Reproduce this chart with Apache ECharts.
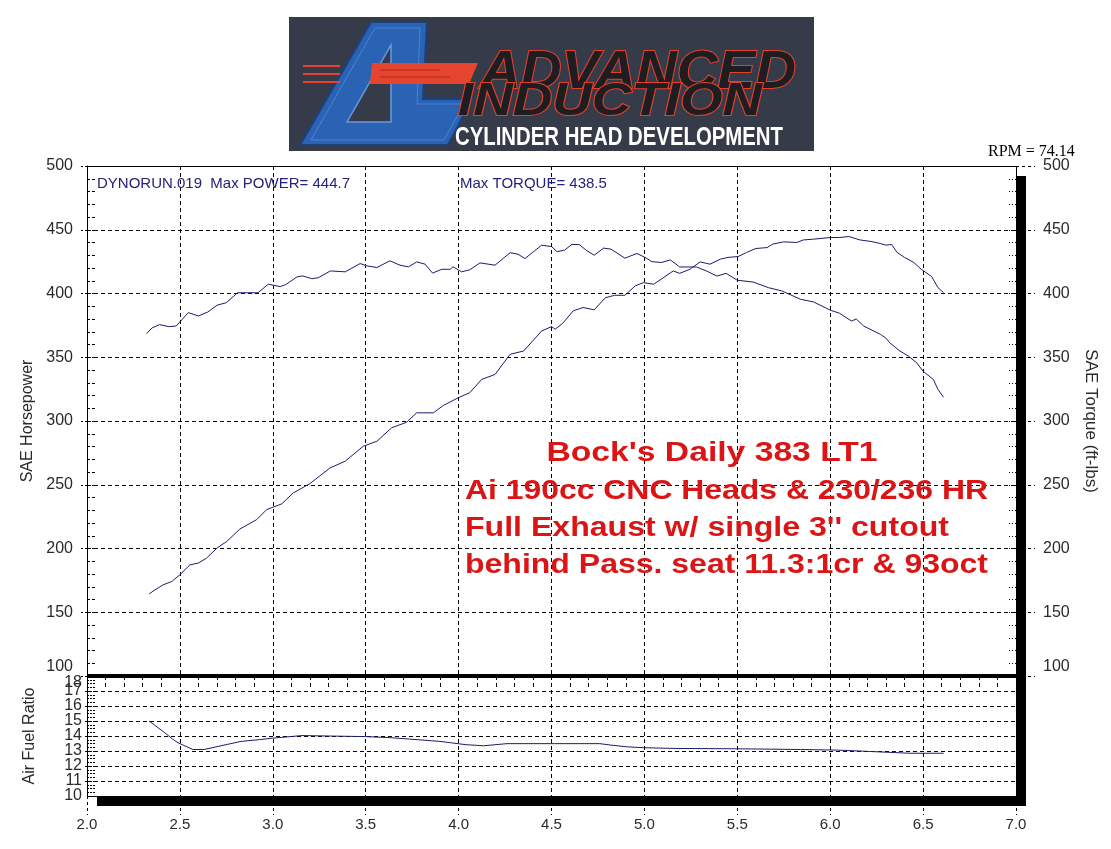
<!DOCTYPE html>
<html>
<head>
<meta charset="utf-8">
<script src="https://cdn.jsdelivr.net/npm/echarts@6/dist/echarts.min.js"></script>
<style>html,body{margin:0;padding:0;background:#fff}#c{width:1111px;height:849px}</style>
</head>
<body>
<div id="c"></div>
<script>
// ---- tick labels ----
const xTicks = [2.0, 2.5, 3.0, 3.5, 4.0, 4.5, 5.0, 5.5, 6.0, 6.5, 7.0];
const hpTicks = [100, 150, 200, 250, 300, 350, 400, 450, 500];
const tqTicks = [100, 150, 200, 250, 300, 350, 400, 450, 500];
const afrTicks = [10, 11, 12, 13, 14, 15, 16, 17, 18];

// ---- series: SAE Torque (ft-lbs) vs RPM x1000 ----
const torqueRpm = [2.32,2.35,2.39,2.44,2.48,2.545,2.60,2.65,2.70,2.75,2.81,2.92,2.976,3.04,3.07,3.13,3.16,3.21,3.245,3.31,3.39,3.47,3.505,3.56,3.63,3.685,3.73,3.775,3.82,3.86,3.91,3.955,3.97,4.016,4.06,4.115,4.196,4.277,4.32,4.357,4.447,4.50,4.53,4.57,4.61,4.65,4.69,4.73,4.78,4.82,4.895,4.96,5.003,5.04,5.09,5.14,5.19,5.28,5.335,5.39,5.44,5.50,5.585,5.667,5.74,5.84,5.91,6.0,6.05,6.115,6.14,6.18,6.27,6.30,6.32,6.375,6.42,6.465,6.50,6.555,6.58,6.61];
const torqueVal = [368.5,373,375.6,374,374.5,385,382.4,385.5,390.8,392.8,400.6,400.6,407.3,405.4,407,413,413.8,411.6,412.4,417.7,417,423.5,421.7,420.4,425.6,422.2,420.9,424.8,423,416,419,419,421,417,418.6,424,422.2,432,430.8,427.4,437.9,436.8,432.8,434,438.5,438.3,433.6,430,435.6,434.8,427.7,431.4,428.3,425,424.3,426.3,420.8,420.8,417.6,413.7,415.8,410.4,409,404.6,402,395.5,393.4,387,384.5,378.4,380,374.5,368,365,361.4,354.9,351,345.7,339,332.6,324.8,318.7];

// ---- series: SAE Horsepower vs RPM x1000 ----
const powerRpm = [2.335,2.366,2.41,2.456,2.50,2.554,2.60,2.644,2.70,2.752,2.823,2.913,2.967,3.048,3.11,3.20,3.308,3.389,3.487,3.56,3.64,3.72,3.774,3.864,3.918,3.998,4.06,4.124,4.196,4.277,4.35,4.447,4.50,4.52,4.56,4.617,4.67,4.73,4.79,4.84,4.895,4.95,4.994,5.05,5.09,5.155,5.19,5.245,5.30,5.353,5.41,5.45,5.505,5.55,5.60,5.66,5.69,5.75,5.82,5.855,5.91,6.0,6.05,6.10,6.16,6.22,6.27,6.30,6.33,6.36,6.40,6.45,6.49,6.546,6.58,6.61];
const powerVal = [164.4,167.6,171.5,174.1,179.4,187.2,188.6,192.5,200.4,205.5,215.3,222.6,230.5,235,243.6,250.9,263.2,268.4,280.2,284.1,294.7,299,306.4,306.4,312.2,318.2,322.2,332.6,336.5,352.3,354.9,370.6,374,372,376.6,386.4,389,387.2,396.7,398.6,398.6,405.9,408.5,407.3,411.2,417.7,415.8,419,424.8,423,427,428.3,429,432.2,435.3,436,438.7,440.5,440,442,442.6,443.9,443.9,444.7,442,440.8,439.2,437.9,438.5,432.2,428.3,424.3,419,413.3,404.6,400.6];

// ---- series: Air Fuel Ratio vs RPM x1000 ----
const afrRpm = [2.334,2.41,2.46,2.49,2.57,2.63,2.755,2.83,2.93,3.0,3.095,3.157,3.30,3.497,3.63,3.73,3.90,4.04,4.135,4.26,4.515,4.76,4.815,4.905,4.994,5.165,5.48,5.84,6.04,6.21,6.43,6.61];
const afrVal = [15.0,14.3,13.8,13.55,13.1,13.1,13.44,13.64,13.76,13.86,13.96,14.03,14.0,13.96,13.89,13.8,13.64,13.42,13.35,13.49,13.49,13.49,13.4,13.28,13.22,13.17,13.15,13.1,13.06,12.97,12.85,12.85];

// ---- texts ----
const headerLeft = 'DYNORUN.019  Max POWER= 444.7';
const headerMid = 'Max TORQUE= 438.5';
const headerRight = 'RPM = 74.14';
const noteTitle = "Bock's Daily 383 LT1";
const noteLines = ['Ai 190cc CNC Heads & 230/236 HR', "Full Exhaust w/ single 3'' cutout", 'behind Pass. seat 11.3:1cr & 93oct'];
const logoWords = ['ADVANCED', 'INDUCTION', 'CYLINDER HEAD DEVELOPMENT'];

const zip = (a, b) => a.map((v, i) => [v, b[i]]);
const ctx = document.createElement('canvas').getContext('2d');
function fit(text, font, target) { ctx.font = font; return target / ctx.measureText(text).width; }

const dash = { color: '#000', width: 1, type: [4, 3] };
const lblColor = '#2a2a2a';
const navy = '#1c1c6c';

function rng(t) { return { min: t[0], max: t[t.length - 1], interval: t[1] - t[0] }; }

const chart = echarts.init(document.getElementById('c'), null, { renderer: 'canvas' });

const redFont = 'bold 27px "Liberation Sans", Arial, sans-serif';
const red = '#db1515';
const noteTargets = [523, 484, 523];
const noteYs = [492, 529, 566];

const graphicEls = [
  // plot shadow and frame
  { type: 'rect', z: 50, shape: { x: 1016, y: 176, width: 10, height: 630 }, style: { fill: '#000' } },
  { type: 'rect', z: 50, shape: { x: 97, y: 796, width: 929, height: 10 }, style: { fill: '#000' } },
  { type: 'rect', z: 49, shape: { x: 87.5, y: 166.5, width: 929, height: 630 }, style: { fill: null, stroke: '#000', lineWidth: 1 } },
  { type: 'rect', z: 50, shape: { x: 87, y: 674, width: 930, height: 4 }, style: { fill: '#000' } },
  // logo
  { type: 'rect', z: 50, shape: { x: 289, y: 17, width: 525, height: 134 }, style: { fill: '#363b49' } },
  { type: 'polygon', z: 51, shape: { points: [[300,145],[371,22],[427,22],[423,99],[472,99],[448,145]] }, style: { fill: '#2a62b4', stroke: '#1b407e', lineWidth: 2 } },
  { type: 'polygon', z: 52, shape: { points: [[347,122],[391,45],[391,122]] }, style: { fill: '#363b49', stroke: '#6a9be0', lineWidth: 1.5 } },
  { type: 'polyline', z: 52, shape: { points: [[311,140],[375,28],[420,28],[417,104],[464,104],[444,140],[311,140]] }, style: { fill: null, stroke: '#4d84d0', lineWidth: 1 } },
  { type: 'polygon', z: 53, shape: { points: [[372,63],[478,63],[469,84],[370,84]] }, style: { fill: '#e5452f' } },
  { type: 'line', z: 54, shape: { x1: 380, y1: 70, x2: 440, y2: 70 }, style: { stroke: '#b02a1c', lineWidth: 1 } },
  { type: 'line', z: 54, shape: { x1: 380, y1: 77, x2: 450, y2: 77 }, style: { stroke: '#b02a1c', lineWidth: 1 } },
  { type: 'line', z: 53, shape: { x1: 303, y1: 66, x2: 340, y2: 66 }, style: { stroke: '#e5452f', lineWidth: 2 } },
  { type: 'line', z: 53, shape: { x1: 303, y1: 74, x2: 340, y2: 74 }, style: { stroke: '#e5452f', lineWidth: 2 } },
  { type: 'line', z: 53, shape: { x1: 303, y1: 82, x2: 340, y2: 82 }, style: { stroke: '#e5452f', lineWidth: 2 } },
  { type: 'text', z: 55, x: 480, y: 73, scaleX: fit(logoWords[0], 'italic 900 54px "Liberation Sans"', 316),
    style: { text: logoWords[0], font: 'italic 900 54px "Liberation Sans"', fill: '#1d1d22', stroke: '#e3402b', lineWidth: 2, align: 'left', textAlign: 'left', verticalAlign: 'middle', textVerticalAlign: 'middle' } },
  { type: 'text', z: 56, x: 458, y: 102, scaleX: fit(logoWords[1], 'italic 900 46px "Liberation Sans"', 304),
    style: { text: logoWords[1], font: 'italic 900 46px "Liberation Sans"', fill: '#1d1d22', stroke: '#e3402b', lineWidth: 2, align: 'left', textAlign: 'left', verticalAlign: 'middle', textVerticalAlign: 'middle' } },
  { type: 'text', z: 56, x: 455, y: 138, scaleX: fit(logoWords[2], '900 26px "Liberation Sans"', 328),
    style: { text: logoWords[2], font: '900 26px "Liberation Sans"', fill: '#ffffff', align: 'left', textAlign: 'left', verticalAlign: 'middle', textVerticalAlign: 'middle' } },
  // header texts
  { type: 'text', z: 60, x: 97, y: 184, style: { text: headerLeft, font: '15px "Liberation Sans", Arial, sans-serif', fill: '#23237a', align: 'left', textAlign: 'left', verticalAlign: 'middle', textVerticalAlign: 'middle' } },
  { type: 'text', z: 60, x: 460, y: 184, style: { text: headerMid, font: '15px "Liberation Sans", Arial, sans-serif', fill: '#23237a', align: 'left', textAlign: 'left', verticalAlign: 'middle', textVerticalAlign: 'middle' } },
  { type: 'text', z: 60, x: 988, y: 152, style: { text: headerRight, font: '16px "Liberation Serif", "Times New Roman", serif', fill: '#000', align: 'left', textAlign: 'left', verticalAlign: 'middle', textVerticalAlign: 'middle' } },
  // red note
  { type: 'text', z: 60, x: 712, y: 454, scaleX: fit(noteTitle, redFont, 331),
    style: { text: noteTitle, font: redFont, fill: red, align: 'center', textAlign: 'center', verticalAlign: 'middle', textVerticalAlign: 'middle' } }
];
noteLines.forEach((t, i) => {
  graphicEls.push({ type: 'text', z: 60, x: 465, y: noteYs[i], scaleX: fit(t, redFont, noteTargets[i]),
    style: { text: t, font: redFont, fill: red, align: 'left', textAlign: 'left', verticalAlign: 'middle', textVerticalAlign: 'middle' } });
});

const upRich = { up: { padding: [0, 0, 18, 0], fontSize: 16, color: lblColor, fontFamily: '"Liberation Sans", Arial' } };
const dnRich = { dn: { padding: [14, 0, 0, 0], fontSize: 16, color: lblColor, fontFamily: '"Liberation Sans", Arial' } };
const hpR = rng(hpTicks), tqR = rng(tqTicks), afR = rng(afrTicks), xR = rng(xTicks);
const lblBase = { showMinLabel: true, showMaxLabel: true, hideOverlap: false };

const option = {
  animation: false,
  backgroundColor: '#fff',
  textStyle: { fontFamily: '"Liberation Sans", Arial, sans-serif' },
  grid: [
    { left: 87, top: 166, width: 929, height: 510, outerBoundsMode: 'none', containLabel: false },
    { left: 87, top: 676, width: 929, height: 120, outerBoundsMode: 'none', containLabel: false }
  ],
  xAxis: [
    { gridIndex: 0, type: 'value', min: xR.min, max: xR.max, interval: xR.interval,
      axisLabel: { show: false }, axisLine: { show: false }, axisTick: { show: false }, splitLine: { show: true, lineStyle: dash } },
    { gridIndex: 1, type: 'value', min: xR.min, max: xR.max, interval: xR.interval,
      axisLabel: Object.assign({ show: true, fontSize: 15, color: lblColor, margin: 21, formatter: v => v.toFixed(1) }, lblBase),
      axisLine: { show: false }, axisTick: { show: true, length: 19, lineStyle: { color: '#000', type: [3, 3] } },
      splitLine: { show: true, lineStyle: dash } },
    { gridIndex: 1, type: 'value', min: xR.min, max: xR.max, interval: 0.1, offset: 0,
      axisLabel: { show: false }, axisLine: { show: false },
      axisTick: { show: true, inside: true, length: 11, lineStyle: { color: '#000', type: [4, 3] } }, splitLine: { show: false } }
  ],
  yAxis: [
    { gridIndex: 0, type: 'value', position: 'left', offset: 0, min: hpR.min, max: hpR.max, interval: hpR.interval,
      axisLine: { show: true, lineStyle: { color: '#000', width: 1 } },
      axisTick: { show: true, length: 6, lineStyle: { color: '#000', type: [2, 2] } },
      axisLabel: Object.assign({ fontSize: 16, color: lblColor, margin: 14, formatter: v => v === hpR.min ? '{up|' + v + '}' : String(v), rich: upRich }, lblBase),
      splitLine: { show: true, lineStyle: dash },
      name: 'SAE Horsepower', nameLocation: 'middle', nameGap: 41, nameRotate: 90,
      nameTextStyle: { fontSize: 16, color: lblColor } },
    { gridIndex: 0, type: 'value', position: 'right', offset: 0, min: tqR.min, max: tqR.max, interval: tqR.interval,
      axisLine: { show: false },
      axisTick: { show: true, length: 19, lineStyle: { color: '#000', type: [3, 3] } },
      axisLabel: Object.assign({ fontSize: 16, color: lblColor, margin: 27, formatter: v => v === tqR.min ? '{up|' + v + '}' : String(v), rich: upRich }, lblBase),
      splitLine: { show: false },
      name: 'SAE Torque (ft-lbs)', nameLocation: 'middle', nameGap: 66, nameRotate: -90,
      nameTextStyle: { fontSize: 17, color: lblColor } },
    { gridIndex: 0, type: 'value', position: 'left', offset: 0, min: hpR.min, max: hpR.max, interval: 10,
      axisLine: { show: false }, axisLabel: { show: false }, splitLine: { show: false },
      axisTick: { show: true, inside: true, length: 8, lineStyle: { color: '#000', type: [3, 2] } } },
    { gridIndex: 0, type: 'value', position: 'right', offset: 0, min: tqR.min, max: tqR.max, interval: 10,
      axisLine: { show: false }, axisLabel: { show: false }, splitLine: { show: false },
      axisTick: { show: true, inside: true, length: 7, lineStyle: { color: '#000', type: [1, 2] } } },
    { gridIndex: 1, type: 'value', position: 'left', offset: 0, min: afR.min, max: afR.max, interval: afR.interval,
      axisLine: { show: true, lineStyle: { color: '#000', width: 1 } },
      axisTick: { show: true, length: 4, lineStyle: { color: '#000', type: [2, 2] } },
      axisLabel: { fontSize: 16, lineHeight: 12, color: lblColor, margin: 5, showMinLabel: false, showMaxLabel: false, hideOverlap: false,
        formatter: v => (v === afR.max || v === afR.min) ? '' : String(v) },
      splitLine: { show: true, lineStyle: dash },
      name: 'Air Fuel Ratio', nameLocation: 'middle', nameGap: 49, nameRotate: 90,
      nameTextStyle: { fontSize: 16, color: lblColor } },
    { gridIndex: 1, type: 'value', position: 'left', offset: 0, min: afR.min, max: afR.max, interval: 0.25,
      axisLine: { show: false }, axisLabel: { show: false }, splitLine: { show: false },
      axisTick: { show: true, inside: true, length: 8, lineStyle: { color: '#000', type: [2, 1] } } },
    { gridIndex: 1, type: 'value', position: 'left', offset: 0, min: afR.min, max: afR.max, interval: afR.interval,
      axisLine: { show: false }, axisTick: { show: false }, splitLine: { show: false },
      axisLabel: { fontSize: 16, lineHeight: 12, color: lblColor, margin: 5, showMinLabel: true, showMaxLabel: true, hideOverlap: false, rich: dnRich,
        formatter: v => v === afR.max ? '{dn|' + v + '}' : (v === afR.min ? String(v) : '') } }
  ],
  series: [
    { name: 'SAE Torque', type: 'line', xAxisIndex: 0, yAxisIndex: 1, data: zip(torqueRpm, torqueVal),
      showSymbol: false, symbol: 'none', silent: true, lineStyle: { color: navy, width: 1 } },
    { name: 'SAE Horsepower', type: 'line', xAxisIndex: 0, yAxisIndex: 0, data: zip(powerRpm, powerVal),
      showSymbol: false, symbol: 'none', silent: true, lineStyle: { color: navy, width: 1 } },
    { name: 'Air Fuel Ratio', type: 'line', xAxisIndex: 1, yAxisIndex: 4, data: zip(afrRpm, afrVal),
      showSymbol: false, symbol: 'none', silent: true, lineStyle: { color: navy, width: 1 } }
  ],
  graphic: { elements: graphicEls }
};
chart.setOption(option);
</script>
</body>
</html>
